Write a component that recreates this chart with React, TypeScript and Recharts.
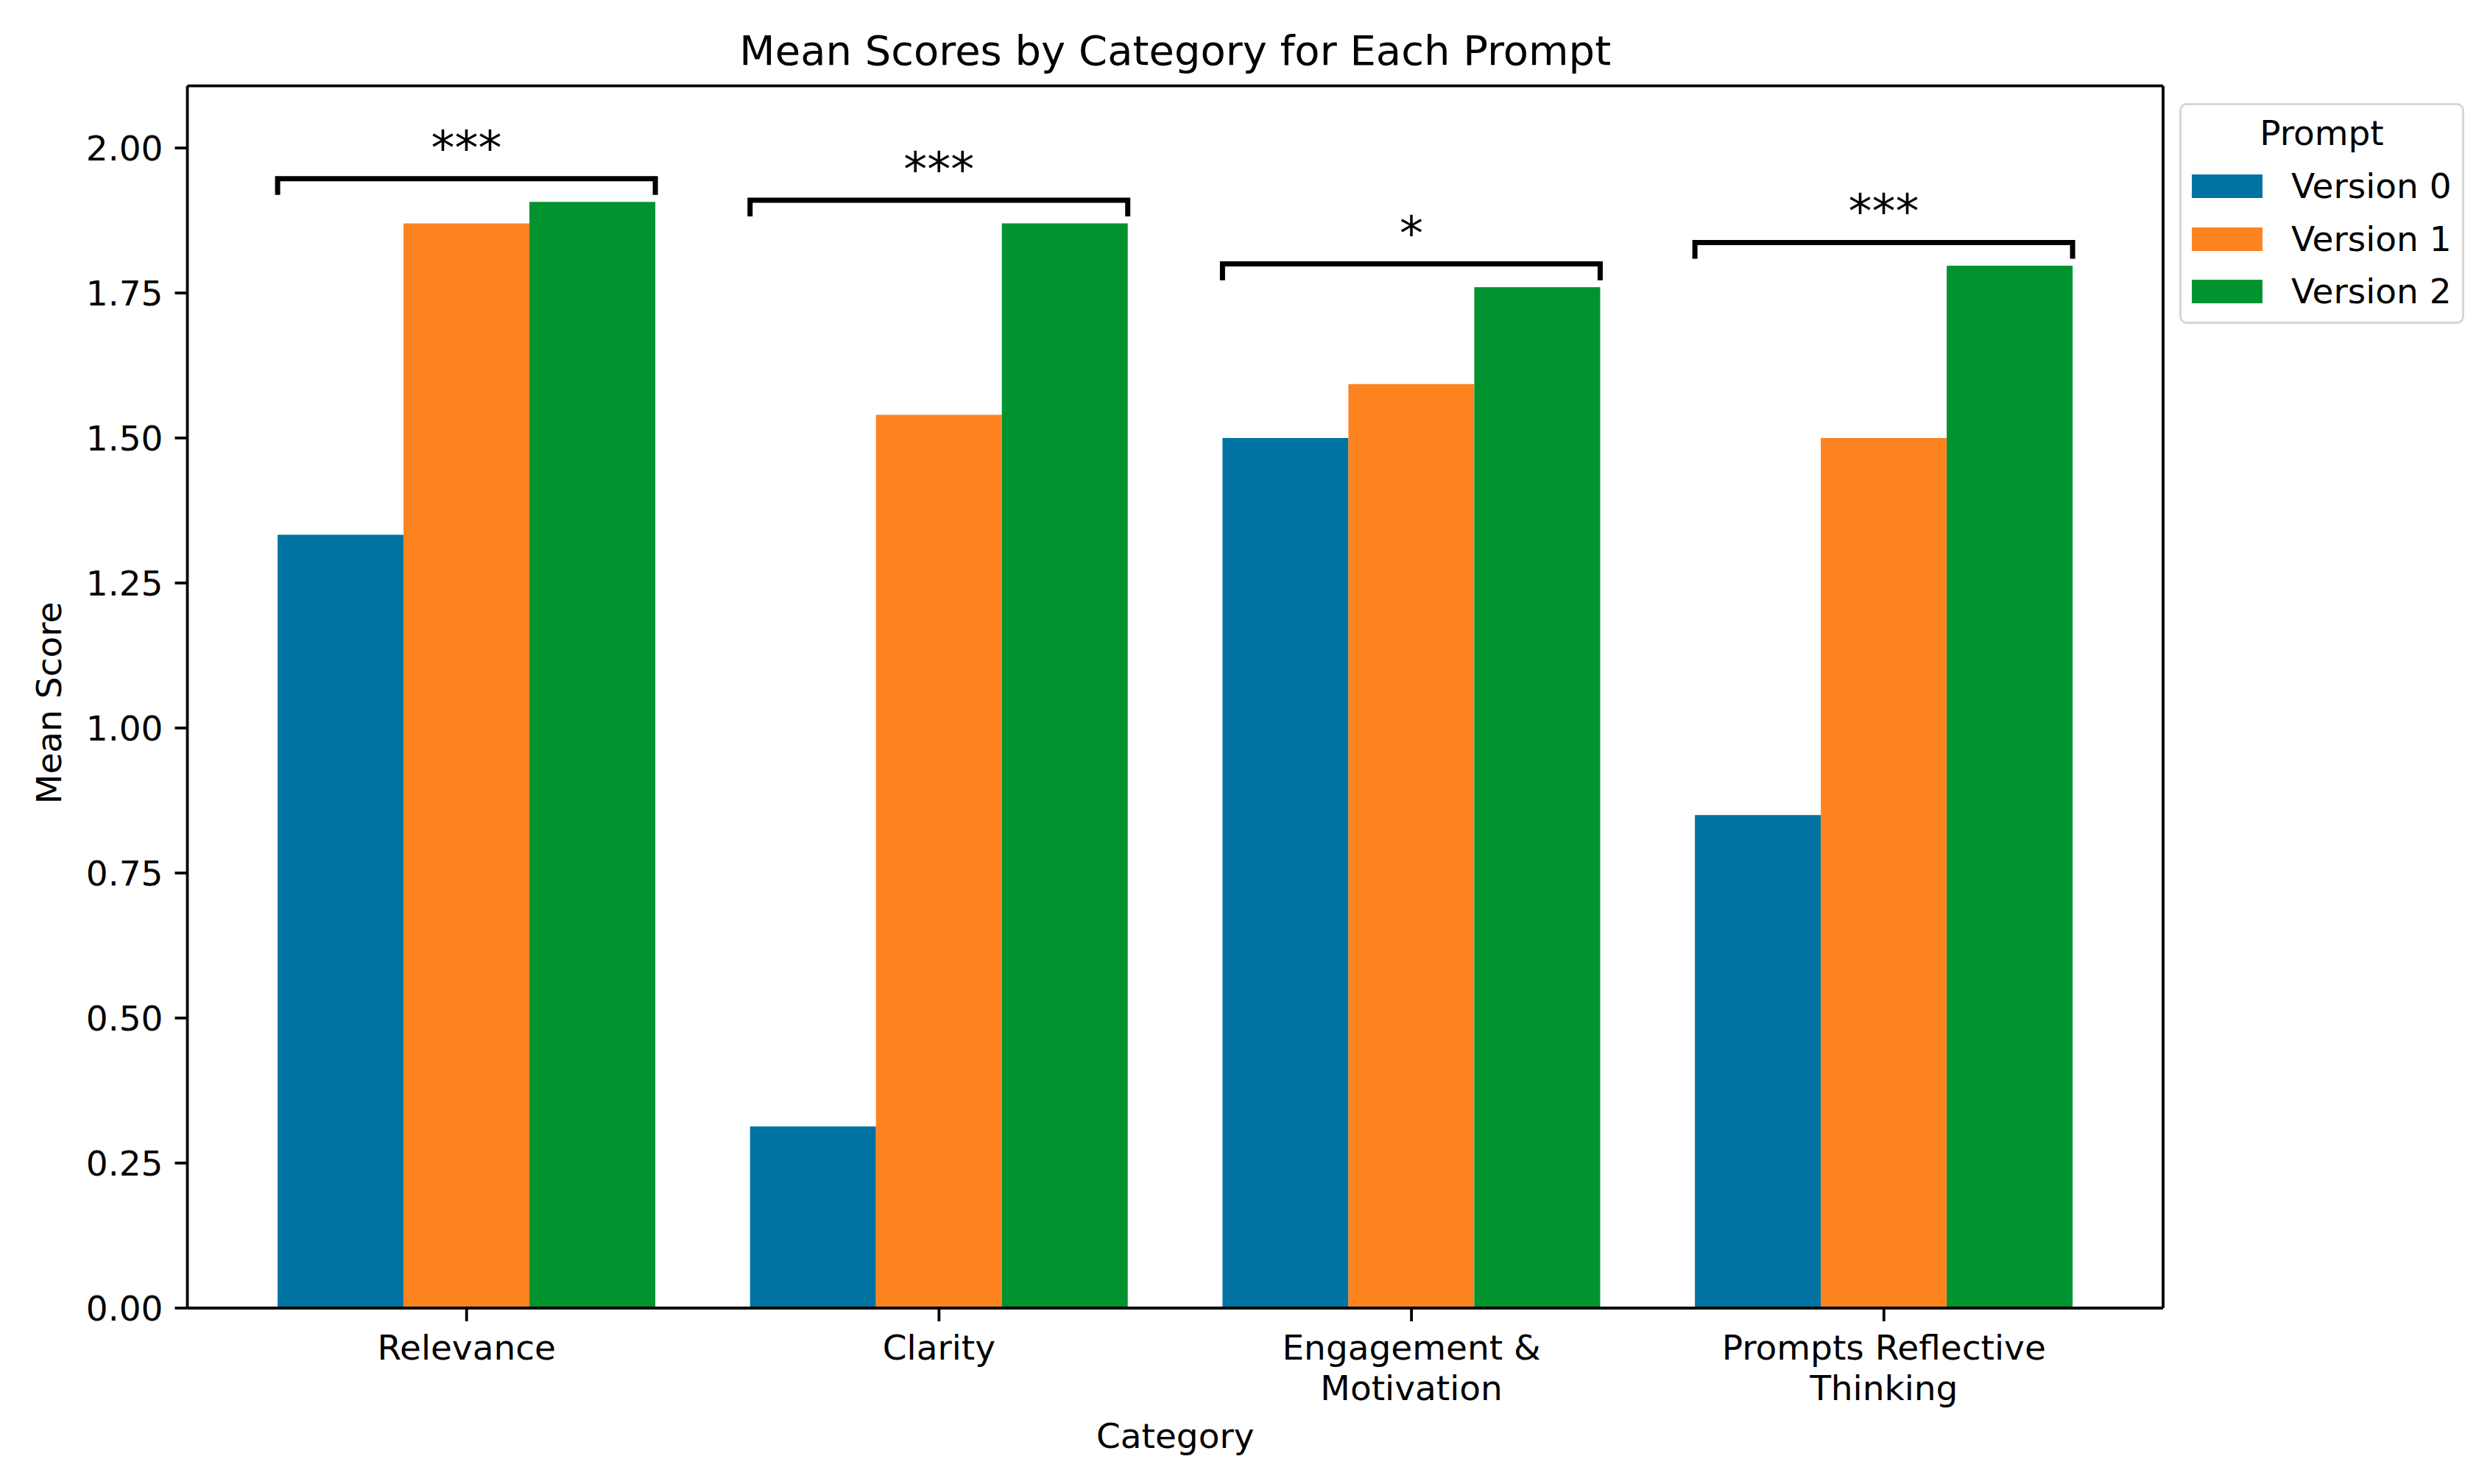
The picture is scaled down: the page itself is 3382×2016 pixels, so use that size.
import React from 'react';
import { BarChart, Bar, XAxis, YAxis } from 'recharts';

const categories = ['Relevance', 'Clarity', 'Engagement & Motivation', 'Prompts Reflective Thinking'];
const tickLines = [['Relevance'], ['Clarity'], ['Engagement &', 'Motivation'], ['Prompts Reflective', 'Thinking']];
const version0 = [1.333, 0.313, 1.5, 0.85];
const version1 = [1.87, 1.54, 1.593, 1.5];
const version2 = [1.907, 1.87, 1.76, 1.797];
const bracketLevels = [1.947, 1.91, 1.8, 1.837];
const significance = ['***', '***', '*', '***'];
const yTicks = [0, 0.25, 0.5, 0.75, 1.0, 1.25, 1.5, 1.75, 2.0];
const yMax = 2.107;
const seriesNames = ['Version 0', 'Version 1', 'Version 2'];
const seriesColors = ['#0173a2', '#fd8320', '#01932f'];

const FONT = '"DejaVu Sans", sans-serif';
const W = 3382;
const H = 2016;

const rows = categories.map((c, i) => ({
  category: c,
  v0: version0[i],
  v1: version1[i],
  v2: version2[i],
  bracket: bracketLevels[i],
  sig: significance[i],
}));

const spine = { stroke: '#000', strokeWidth: 3.8 };

const CategoryTick = (props: any) => {
  const { x, y, index } = props;
  const lines = tickLines[index] || [String(props.payload?.value)];
  return (
    <text x={x} y={y + 52} textAnchor="middle" fontSize={47} fontFamily={FONT} fill="#000">
      {lines.map((l, i) => (
        <tspan key={i} x={x} dy={i === 0 ? 0 : 55}>{l}</tspan>
      ))}
    </text>
  );
};

// last bar of each group also draws the significance bracket above the group
const BracketBar = (props: any) => {
  const { x, y, width, height, fill, payload } = props;
  const ppu = height / payload.v2;
  const base = y + height;
  const by = base - payload.bracket * ppu;
  const left = x - 2 * width;
  const right = x + width;
  const drop = 0.028 * ppu;
  return (
    <g>
      <rect x={x} y={y} width={width} height={height} fill={fill} />
      <path
        d={`M${left},${by + drop} L${left},${by} L${right},${by} L${right},${by + drop}`}
        fill="none"
        stroke="#000"
        strokeWidth={7}
      />
      <text x={(left + right) / 2} y={by - 20} textAnchor="middle" fontSize={64} fontFamily={FONT} fill="#000">
        {payload.sig}
      </text>
    </g>
  );
};

export default function App() {
  return (
    <div style={{ position: 'absolute', left: 0, top: 0, width: W, height: H, background: '#fff', fontFamily: FONT }}>
      <svg width={W} height={120} style={{ position: 'absolute', left: 0, top: 0 }}>
        <text x={(254.5 + 2938) / 2} y={88} textAnchor="middle" fontSize={56} fontFamily={FONT} fill="#000">
          Mean Scores by Category for Each Prompt
        </text>
      </svg>
      <div style={{ position: 'absolute', left: 0, top: 0 }}>
        <BarChart
          width={W}
          height={H}
          data={rows}
          margin={{ top: 115.7, right: 443, bottom: 0, left: 0 }}
          barCategoryGap="10%"
          barGap={0}
        >
          <XAxis
            dataKey="category"
            height={239}
            padding={{ left: 58.4, right: 58.4 }}
            tick={<CategoryTick />}
            tickSize={18}
            tickMargin={0}
            interval={0}
            axisLine={spine}
            tickLine={spine}
            label={{
              content: (p: any) => (
                <text
                  x={p.viewBox.x + p.viewBox.width / 2}
                  y={p.viewBox.y + 190}
                  textAnchor="middle"
                  fontSize={47}
                  fontFamily={FONT}
                  fill="#000"
                >
                  Category
                </text>
              ),
            }}
          />
          <XAxis
            xAxisId="top"
            dataKey="category"
            orientation="top"
            height={1}
            padding={{ left: 58.4, right: 58.4 }}
            tick={false}
            tickLine={false}
            axisLine={spine}
          />
          <YAxis
            width={254.5}
            domain={[0, yMax]}
            ticks={yTicks}
            allowDataOverflow
            tickFormatter={(v: number) => v.toFixed(2)}
            tick={{ fontSize: 47, fontFamily: FONT, fill: '#000' }}
            tickSize={17}
            tickMargin={16}
            axisLine={spine}
            tickLine={spine}
            label={{
              content: (p: any) => {
                const lx = p.viewBox.x + 83;
                const ly = p.viewBox.y + p.viewBox.height / 2 + 8;
                return (
                  <text
                    x={lx}
                    y={ly}
                    transform={`rotate(-90, ${lx}, ${ly})`}
                    textAnchor="middle"
                    fontSize={47}
                    fontFamily={FONT}
                    fill="#000"
                  >
                    Mean Score
                  </text>
                );
              },
            }}
          />
          <YAxis
            yAxisId="right"
            orientation="right"
            width={1}
            domain={[0, yMax]}
            ticks={yTicks}
            tick={false}
            tickLine={false}
            axisLine={spine}
          />
          <Bar dataKey="v0" name={seriesNames[0]} fill={seriesColors[0]} isAnimationActive={false} />
          <Bar dataKey="v1" name={seriesNames[1]} fill={seriesColors[1]} isAnimationActive={false} />
          <Bar dataKey="v2" name={seriesNames[2]} fill={seriesColors[2]} shape={<BracketBar />} isAnimationActive={false} />
        </BarChart>
      </div>
      <div
        style={{
          position: 'absolute',
          left: 2960,
          top: 140,
          width: 387,
          height: 300,
          boxSizing: 'border-box',
          border: '3.8px solid #d6d6d6',
          borderRadius: 10,
          background: '#fff',
          fontSize: 47,
          color: '#000',
        }}
      >
        <div style={{ position: 'absolute', left: 0, right: 0, top: 10, textAlign: 'center', lineHeight: '56px' }}>Prompt</div>
        {seriesNames.map((n, i) => (
          <div key={n} style={{ position: 'absolute', left: 0, top: 82 + i * 71.5, height: 56, width: '100%' }}>
            <div style={{ position: 'absolute', left: 14, top: 12, width: 96, height: 32, background: seriesColors[i] }} />
            <div style={{ position: 'absolute', left: 149, top: 0, lineHeight: '56px', whiteSpace: 'nowrap' }}>{n}</div>
          </div>
        ))}
      </div>
    </div>
  );
}
